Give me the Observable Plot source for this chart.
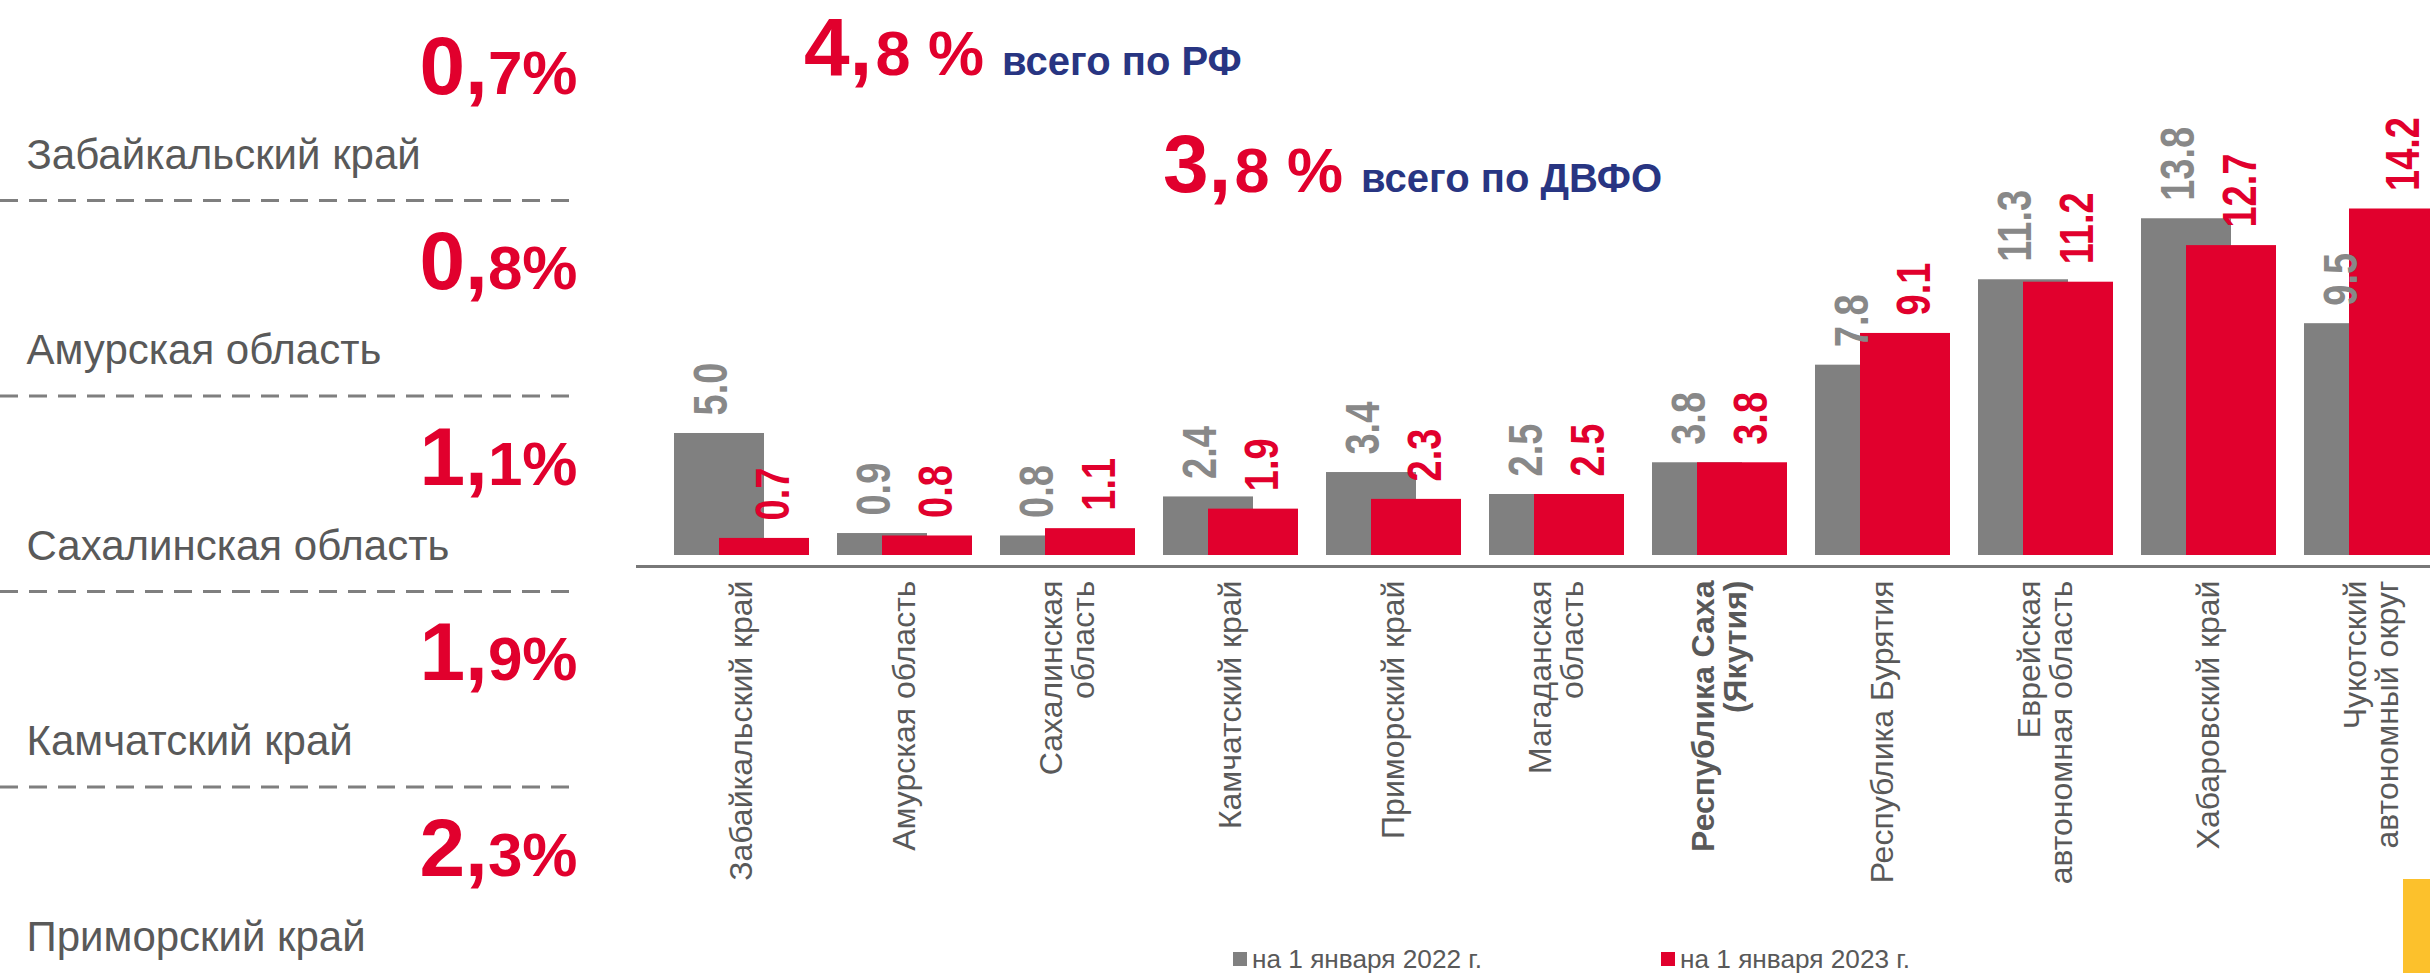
<!DOCTYPE html>
<html>
<head>
<meta charset="utf-8">
<script src="https://cdn.jsdelivr.net/npm/d3@7"></script>
<script src="https://cdn.jsdelivr.net/npm/@observablehq/plot@0.6"></script>
<style>
html, body { margin: 0; padding: 0; background: #fff; }
#root { position: relative; width: 2430px; height: 973px; overflow: hidden; font-family: "Liberation Sans", Arial, sans-serif; }
#left { position: absolute; left: 0; top: 0; width: 620px; }
#main { position: absolute; left: 620px; top: 0; width: 1810px; }
#overlay { position: absolute; left: 0; top: 0; }
</style>
</head>
<body>
<div id="root">
  <div id="left"></div>
  <div id="main"></div>
  <svg id="overlay" width="2430" height="973"></svg>
</div>
<script>
// ---------- data ----------
const regions = [
  "Забайкальский край",
  "Амурская область",
  "Сахалинская\nобласть",
  "Камчатский край",
  "Приморский край",
  "Магаданская\nобласть",
  "Республика Саха\n(Якутия)",
  "Республика Бурятия",
  "Еврейская\nавтономная область",
  "Хабаровский край",
  "Чукотский\nавтономный округ"
];
const values2022 = [5.0, 0.9, 0.8, 2.4, 3.4, 2.5, 3.8, 7.8, 11.3, 13.8, 9.5];
const values2023 = [0.7, 0.8, 1.1, 1.9, 2.3, 2.5, 3.8, 9.1, 11.2, 12.7, 14.2];
const boldRegion = "Республика Саха\n(Якутия)";
const seriesNames = ["на 1 января 2022 г.", "на 1 января 2023 г."];

const lowestNames = ["Забайкальский край", "Амурская область", "Сахалинская область", "Камчатский край", "Приморский край"];
const lowestValues = [0.7, 0.8, 1.1, 1.9, 2.3];

const totalValues = [4.8, 3.8];
const totalLabels = ["всего по РФ", "всего по ДВФО"];

// ---------- styles ----------
const gray = "#808080", red = "#E1002D", blue = "#283582", textGray = "#595959", labelGray = "#888888";
const font = "'Liberation Sans', Arial, sans-serif";

const d22 = regions.map((r, i) => ({region: r, value: values2022[i]}));
const d23 = regions.map((r, i) => ({region: r, value: values2023[i]}));
const lowest = lowestNames.map((n, i) => ({name: n, value: lowestValues[i]}));

// ---------- main chart ----------
const labelOpts = {x: "region", y: "value", text: d => d.value.toFixed(1), rotate: -90, textAnchor: "start",
  dy: -18, fontSize: 38, fontWeight: "bold", ariaDescription: "value-label"};
const main = Plot.plot({
  width: 1810, height: 900,
  marginTop: 0, marginRight: 0, marginBottom: 0, marginLeft: 16,
  style: {background: "transparent", fontFamily: font},
  x: {type: "band", domain: regions, range: [16, 1857], paddingInner: 0.17, paddingOuter: 0.208, axis: null},
  y: {domain: [0, 14.2], range: [555, 208.5], axis: null},
  marks: [
    Plot.barY(d22, {x: "region", y: "value", fill: gray, insetRight: 45}),
    Plot.barY(d23, {x: "region", y: "value", fill: red, insetLeft: 45}),
    Plot.ruleY([0], {dy: 11, stroke: "#787878", strokeWidth: 3}),
    Plot.text(d22, {...labelOpts, dx: -30, fill: labelGray}),
    Plot.text(d23, {...labelOpts, dx: 32, fill: red}),
    Plot.text(regions.filter(r => r !== boldRegion), {x: d => d, y: () => 0, text: d => d, rotate: -90,
      textAnchor: "end", dy: 25, fontSize: 32, lineHeight: 1, fill: textGray}),
    Plot.text([boldRegion], {x: d => d, y: () => 0, text: d => d, rotate: -90,
      textAnchor: "end", dy: 25, fontSize: 32, lineHeight: 1, fill: textGray, fontWeight: "bold"})
  ]
});
// widen the rotated value labels across x, like the reference's broad digits
d3.select(main).selectAll('g[aria-description="value-label"] text')
  .attr("transform", function() { return this.getAttribute("transform") + " scale(1,1.25)"; });
document.getElementById("main").appendChild(main);

// ---------- left panel ----------
const fracWidth = (0.556 + 0.889) * 62;
const left = Plot.plot({
  width: 620, height: 973,
  marginTop: 0, marginBottom: 0, marginLeft: 0, marginRight: 43,
  style: {background: "transparent", fontFamily: font},
  y: {domain: [0, 4], range: [93, 875], axis: null},
  marks: [
    Plot.ruleY(d3.range(lowest.length - 1), {y: d => d, dy: 107, stroke: "#7f7f7f", strokeWidth: 3, strokeDasharray: "18 11"}),
    Plot.text(lowest, {y: (d, i) => i, frameAnchor: "right", textAnchor: "end", lineAnchor: "bottom",
      text: d => d.value.toFixed(1).split(".")[1] + "%", fontSize: 62, fontWeight: "bold", fill: red}),
    Plot.text(lowest, {y: (d, i) => i, frameAnchor: "right", textAnchor: "end", lineAnchor: "bottom", dx: -fracWidth,
      text: d => d.value.toFixed(1).split(".")[0] + ",", fontSize: 82, fontWeight: "bold", fill: red}),
    Plot.text(lowest, {y: (d, i) => i, frameAnchor: "left", textAnchor: "start", lineAnchor: "bottom", dx: 26, dy: 75,
      text: "name", fontSize: 42, fill: textGray})
  ]
});
document.getElementById("left").appendChild(left);

// ---------- headings, legend, decoration ----------
const ov = d3.select("#overlay").style("font-family", font);
const headPos = [[804, 75], [1163, 192]];
totalValues.forEach((v, i) => {
  const [a, b] = v.toFixed(1).split(".");
  const t = ov.append("text").attr("x", headPos[i][0]).attr("y", headPos[i][1]).attr("font-weight", "bold");
  t.append("tspan").attr("font-size", 82).attr("fill", red).text(a + ",");
  t.append("tspan").attr("font-size", 63).attr("fill", red).attr("dx", 3).text(b + " %");
  t.append("tspan").attr("font-size", 40).attr("fill", blue).attr("dx", 18).text(totalLabels[i]);
});
const legPos = [1233, 1661];
const legColors = [gray, red];
seriesNames.forEach((s, i) => {
  ov.append("rect").attr("x", legPos[i]).attr("y", 952).attr("width", 14).attr("height", 14).attr("fill", legColors[i]);
  ov.append("text").attr("x", legPos[i] + 19).attr("y", 968).attr("font-size", 26)
    .attr("textLength", 230).attr("lengthAdjust", "spacingAndGlyphs").attr("fill", textGray).text(s);
});
ov.append("rect").attr("x", 2403).attr("y", 879).attr("width", 27).attr("height", 94).attr("fill", "#FCC12C");
</script>
</body>
</html>
